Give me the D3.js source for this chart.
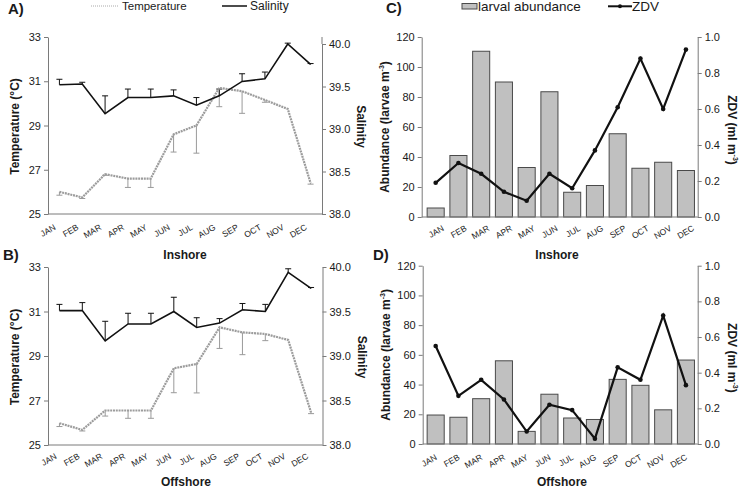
<!DOCTYPE html>
<html><head><meta charset="utf-8">
<script src="https://cdn.jsdelivr.net/npm/d3@7/dist/d3.min.js"></script>
<style>
body{margin:0;background:#fff}
svg{display:block;font-family:"Liberation Sans",Arial,sans-serif}
</style>
</head><body>
<svg id="c" width="745" height="489"></svg>
<script>
// ---------------- data ----------------
const months = ["JAN","FEB","MAR","APR","MAY","JUN","JUL","AUG","SEP","OCT","NOV","DEC"];

const tempInshore    = [26.0, 25.75, 26.8, 26.6, 26.6, 28.6, 29.0, 30.7, 30.55, 30.15, 29.75, 26.4];
const tempInshoreErr = [0.15, 0.05, 0.05, 0.4, 0.4, 0.8, 1.25, 0.85, 1.0, 0.1, 0, 0.05];
const salInshore     = [39.52, 39.53, 39.18, 39.37, 39.37, 39.39, 39.28, 39.39, 39.56, 39.59, 40.0, 39.76];
const salInshoreErr  = [0.065, 0.02, 0.21, 0.1, 0.1, 0.07, 0.09, 0.08, 0.09, 0.08, 0.01, 0.01];

const tempOffshore    = [25.98, 25.68, 26.55, 26.55, 26.55, 28.45, 28.64, 30.29, 30.06, 29.99, 29.72, 26.46];
const tempOffshoreErr = [0.15, 0.05, 0.25, 0.35, 0.35, 1.1, 1.3, 0.95, 1.0, 0.3, 0, 0.05];
const salOffshore     = [39.51, 39.51, 39.17, 39.36, 39.36, 39.5, 39.32, 39.37, 39.52, 39.5, 39.94, 39.76];
const salOffshoreErr  = [0.07, 0.09, 0.22, 0.12, 0.12, 0.16, 0.11, 0.05, 0.07, 0.08, 0.04, 0.01];

const abundInshore  = [6, 41, 110.5, 90, 33, 83.5, 16.5, 21, 55.5, 32.5, 36.5, 31];
const zdvInshore    = [0.19, 0.30, 0.24, 0.14, 0.09, 0.24, 0.16, 0.37, 0.61, 0.88, 0.60, 0.93];
const abundOffshore = [19.5, 18, 30.5, 56, 8.5, 33.5, 17.5, 16.5, 43.5, 39.5, 23, 56.5];
const zdvOffshore   = [0.55, 0.27, 0.36, 0.25, 0.07, 0.22, 0.19, 0.03, 0.43, 0.36, 0.72, 0.33];

const tempTicks  = [25, 27, 29, 31, 33];
const salTicks   = [38.0, 38.5, 39.0, 39.5, 40.0];
const abundTicks = [0, 20, 40, 60, 80, 100, 120];
const zdvTicks   = [0.0, 0.2, 0.4, 0.6, 0.8, 1.0];

// ---------------- drawing ----------------
const svg = d3.select("#c");
const AX = "#7a7a7a", TXT = "#1a1a1a";
const FONT = '"Liberation Sans", Arial, sans-serif';

function yAxis(scale, x, ticks, fmt, side) {
  const a = (side === "left" ? d3.axisLeft(scale) : d3.axisRight(scale))
    .tickValues(ticks).tickFormat(fmt).tickSizeOuter(0).tickSizeInner(4).tickPadding(3);
  const g = svg.append("g").attr("transform", `translate(${x},0)`).call(a);
  g.select(".domain").attr("stroke", AX);
  g.selectAll(".tick line").attr("stroke", AX);
  g.selectAll(".tick text").attr("fill", TXT).style("font-size", "11px").style("font-family", FONT);
}

function xAxis(xs, x0, x1, y, dx, dy) {
  svg.append("line").attr("x1", x0).attr("x2", x1).attr("y1", y).attr("y2", y).attr("stroke", AX);
  const a = d3.axisBottom(xs).tickSize(0).tickPadding(0);
  const g = svg.append("g").attr("transform", `translate(0,${y})`).call(a);
  g.select(".domain").remove();
  g.selectAll(".tick text")
    .attr("y", null).attr("dy", null).attr("x", null)
    .attr("text-anchor", "end")
    .attr("transform", `translate(${dx},${dy}) rotate(-30)`)
    .attr("fill", TXT).style("font-size", "8.5px").style("font-family", FONT);
}

function rotTitle(x, y, angle, parts) {
  const t = svg.append("text").attr("transform", `translate(${x},${y}) rotate(${angle})`)
    .attr("text-anchor", "middle").attr("dominant-baseline", "central")
    .attr("font-weight", "bold").attr("font-size", 12).attr("fill", TXT);
  parts.forEach(p => {
    const s = t.append("tspan").text(p.t);
    if (p.sup) s.attr("font-size", 7).attr("baseline-shift", "super");
  });
}

function label(x, y, txt, size, anchor) {
  svg.append("text").attr("x", x).attr("y", y).attr("text-anchor", anchor || "start")
    .attr("font-weight", "bold").attr("font-size", size).attr("fill", TXT).text(txt);
}

// --- temperature/salinity panel
function tsPanel(cfg, temp, tempErr, sal, salErr) {
  const xs = d3.scaleBand().domain(months).range([cfg.l, cfg.r]);
  const yT = d3.scaleLinear().domain([25, 33]).range([cfg.b, cfg.t]);
  const yS = d3.scaleLinear().domain([38, 40]).range([cfg.b, cfg.sTop]);
  const cx = m => xs(m) + xs.bandwidth() / 2;

  yAxis(yT, cfg.l, tempTicks, d3.format("d"), "left");
  svg.append("line").attr("x1", cfg.r).attr("x2", cfg.r).attr("y1", cfg.t).attr("y2", cfg.sTop).attr("stroke", AX);
  yAxis(yS, cfg.r, salTicks, d3.format(".1f"), "right");
  xAxis(xs, cfg.l, cfg.r, cfg.b, cfg.dx, cfg.dy);

  const cap = 3;
  months.forEach((m, i) => {
    if (tempErr[i] <= 0) return;
    const x = cx(m), y0 = yT(temp[i]), y1 = yT(temp[i] - tempErr[i]);
    svg.append("line").attr("x1", x).attr("x2", x).attr("y1", y0).attr("y2", y1).attr("stroke", "#9a9a9a").attr("stroke-width", 1);
    svg.append("line").attr("x1", x - cap).attr("x2", x + cap).attr("y1", y1).attr("y2", y1).attr("stroke", "#9a9a9a").attr("stroke-width", 1);
  });
  months.forEach((m, i) => {
    if (salErr[i] <= 0) return;
    const x = cx(m), y0 = yS(sal[i]), y1 = yS(sal[i] + salErr[i]);
    svg.append("line").attr("x1", x).attr("x2", x).attr("y1", y0).attr("y2", y1).attr("stroke", "#111").attr("stroke-width", 1);
    svg.append("line").attr("x1", x - cap).attr("x2", x + cap).attr("y1", y1).attr("y2", y1).attr("stroke", "#111").attr("stroke-width", 1);
  });

  svg.append("path").datum(temp)
    .attr("d", d3.line().x((d, i) => cx(months[i])).y(d => yT(d)))
    .attr("fill", "none").attr("stroke", "#9c9c9c").attr("stroke-width", 2.2).attr("stroke-dasharray", "2,0.8");
  svg.append("path").datum(sal)
    .attr("d", d3.line().x((d, i) => cx(months[i])).y(d => yS(d)))
    .attr("fill", "none").attr("stroke", "#111").attr("stroke-width", 1.6);

  rotTitle(cfg.l - 33, (cfg.t + cfg.b) / 2 + 1, -90, [{t: "Temperature (°C)"}]);
  rotTitle(cfg.r + 39, (cfg.t + cfg.b) / 2 + 1, 90, [{t: "Salinity"}]);
}

// --- abundance/ZDV panel
function azPanel(cfg, abund, zdv) {
  const xs = d3.scaleBand().domain(months).range([cfg.bl, cfg.br]).paddingInner(0.25).paddingOuter(0.125);
  const yA = d3.scaleLinear().domain([0, 120]).range([cfg.b, cfg.t]);
  const yZ = d3.scaleLinear().domain([0, 1]).range([cfg.b, cfg.t]);
  const cx = m => xs(m) + xs.bandwidth() / 2;

  yAxis(yA, cfg.l, abundTicks, d3.format("d"), "left");
  yAxis(yZ, cfg.r, zdvTicks, d3.format(".1f"), "right");

  svg.append("g").selectAll("rect").data(abund).join("rect")
    .attr("x", (d, i) => xs(months[i])).attr("width", xs.bandwidth())
    .attr("y", d => yA(d)).attr("height", d => yA(0) - yA(d))
    .attr("fill", "#c0c0c0").attr("stroke", "#4a4a4a").attr("stroke-width", 1);

  xAxis(xs, cfg.l, cfg.r, cfg.b, cfg.dx, cfg.dy);

  svg.append("path").datum(zdv)
    .attr("d", d3.line().x((d, i) => cx(months[i])).y(d => yZ(d)))
    .attr("fill", "none").attr("stroke", "#111").attr("stroke-width", 2.2);
  svg.append("g").selectAll("circle").data(zdv).join("circle")
    .attr("cx", (d, i) => cx(months[i])).attr("cy", d => yZ(d)).attr("r", 2.3).attr("fill", "#111");

  rotTitle(cfg.l - 37, (cfg.t + cfg.b) / 2, -90, [{t: "Abundance (larvae m"}, {t: "-3", sup: true}, {t: ")"}]);
  rotTitle(cfg.r + 34, (cfg.t + cfg.b) / 2 + 3, 90, [{t: "ZDV (ml m"}, {t: "-3", sup: true}, {t: ")"}]);
}

tsPanel({l: 48, r: 322, t: 37, b: 214, sTop: 44, dx: -3, dy: 15}, tempInshore, tempInshoreErr, salInshore, salInshoreErr);
tsPanel({l: 48, r: 322.5, t: 267, b: 445, sTop: 267, dx: -2, dy: 13}, tempOffshore, tempOffshoreErr, salOffshore, salOffshoreErr);
azPanel({l: 421.7, r: 697.7, bl: 424.3, br: 697.3, t: 37, b: 217, dx: 9, dy: 13}, abundInshore, zdvInshore);
azPanel({l: 422.7, r: 697.7, bl: 424.3, br: 697.3, t: 265.7, b: 444, dx: 2, dy: 15}, abundOffshore, zdvOffshore);

// panel letters
label(8, 14, "A)", 15);
label(3, 260, "B)", 15);
label(386, 13, "C)", 15);
label(373, 260, "D)", 15);

// site labels
label(185, 259, "Inshore", 12, "middle");
label(186, 486, "Offshore", 12, "middle");
label(557, 259, "Inshore", 12, "middle");
label(562, 486, "Offshore", 12, "middle");

// legends
const lg = svg.append("g").attr("fill", TXT);
lg.append("line").attr("x1", 91).attr("x2", 118).attr("y1", 6).attr("y2", 6).attr("stroke", "#aaa").attr("stroke-width", 1).attr("stroke-dasharray", "1,1");
lg.append("text").attr("x", 122).attr("y", 10).attr("font-size", 11.5).text("Temperature");
lg.append("line").attr("x1", 222).attr("x2", 247).attr("y1", 6).attr("y2", 6).attr("stroke", "#111").attr("stroke-width", 1.5);
lg.append("text").attr("x", 250).attr("y", 10).attr("font-size", 12).text("Salinity");
lg.append("rect").attr("x", 462).attr("y", 3.5).attr("width", 15).attr("height", 5.5).attr("fill", "#c0c0c0").attr("stroke", "#4a4a4a");
lg.append("text").attr("x", 478).attr("y", 11).attr("font-size", 13.5).text("larval abundance");
lg.append("line").attr("x1", 608).attr("x2", 632).attr("y1", 6.3).attr("y2", 6.3).attr("stroke", "#111").attr("stroke-width", 2);
lg.append("circle").attr("cx", 620).attr("cy", 6.3).attr("r", 2).attr("fill", "#111");
lg.append("text").attr("x", 632).attr("y", 11).attr("font-size", 13.5).text("ZDV");
</script>
</body></html>
